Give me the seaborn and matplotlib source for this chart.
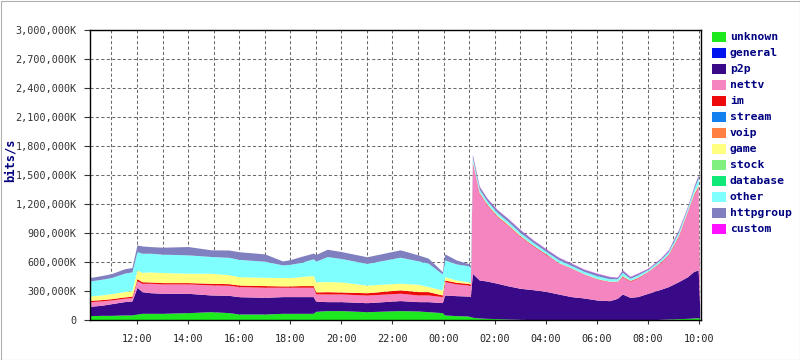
import matplotlib
matplotlib.use("Agg")
import matplotlib.pyplot as plt
from matplotlib.patches import Rectangle
import seaborn as sns

# time in hours since midnight of the first day (values > 24 are next day)
hours = [10.16, 10.6, 11.0, 11.5, 11.8, 12.0, 12.2, 12.5, 13.0, 14.0,
         14.9, 15.6, 16.0, 17.0, 17.7, 18.0, 18.4, 18.9, 19.0, 19.45,
         20.0, 21.0, 22.3, 23.0, 23.4, 23.95, 24.05, 24.5, 24.95, 25.05,
         25.13, 25.4, 25.7, 26.1, 26.5, 27.0, 27.5, 28.07, 28.5, 29.0,
         29.5, 30.0, 30.5, 30.8, 31.0, 31.3, 31.6, 32.0, 32.5, 32.8,
         33.2, 33.55, 33.8, 33.97, 34.03]

# traffic per category in Mbit/s (1 = 1,000K)
unknown = [45, 48, 48, 52, 52, 62, 69, 69, 69, 76,
           86, 76, 62, 62, 69, 69, 69, 69, 90, 97,
           97, 86, 97, 93, 86, 76, 52, 45, 41, 35,
           28, 21, 17, 14, 10, 7, 3, 3, 0, 0,
           0, 0, 0, 0, 0, 0, 0, 0, 7, 10,
           14, 17, 21, 24, 17]
general = [0] * 55
p2p = [97, 104, 121, 138, 145, 276, 224, 214, 207, 200,
       173, 179, 179, 173, 173, 173, 173, 173, 104, 93,
       93, 93, 104, 97, 104, 104, 207, 207, 207, 207,
       455, 393, 386, 366, 345, 321, 311, 290, 269, 242,
       228, 207, 200, 224, 269, 235, 242, 276, 311, 335,
       383, 431, 483, 493, 104]
nettv = [48, 45, 38, 35, 35, 69, 86, 97, 97, 97,
         104, 104, 104, 104, 97, 97, 97, 97, 76, 79,
         79, 79, 76, 69, 69, 62, 138, 121, 114, 114,
         1139, 897, 787, 690, 628, 535, 452, 373, 321, 293,
         245, 217, 197, 173, 179, 166, 190, 224, 276, 328,
         473, 673, 794, 863, 35]
im = [14, 14, 14, 14, 14, 21, 17, 14, 14, 14,
      17, 17, 17, 17, 14, 14, 17, 17, 21, 24,
      21, 24, 35, 35, 35, 17, 17, 17, 17, 17,
      10, 7, 7, 7, 7, 7, 7, 7, 3, 3,
      3, 3, 3, 3, 7, 7, 7, 3, 7, 7,
      7, 7, 10, 10, 0]
stream = [0] * 55
voip = [0] * 55
game = [45, 48, 52, 55, 59, 90, 97, 104, 104, 97,
        104, 93, 86, 86, 86, 86, 93, 104, 104, 104,
        104, 79, 69, 76, 52, 52, 35, 24, 17, 17,
        10, 7, 7, 7, 7, 7, 3, 3, 3, 3,
        3, 3, 3, 3, 7, 3, 3, 3, 3, 3,
        7, 7, 10, 14, 0]
stock = [0] * 55
database = [0] * 55
other = [155, 162, 166, 190, 193, 190, 197, 193, 190, 190,
         173, 179, 179, 166, 131, 138, 145, 173, 214, 259,
         242, 224, 269, 242, 242, 166, 173, 166, 166, 155,
         35, 28, 28, 28, 28, 28, 28, 24, 28, 24,
         24, 28, 24, 24, 31, 21, 24, 17, 21, 24,
         28, 24, 41, 62, 10]
httpgroup = [35, 38, 41, 45, 45, 69, 76, 69, 72, 86,
             69, 76, 79, 76, 41, 48, 62, 59, 69, 76,
             72, 69, 76, 62, 52, 24, 62, 41, 24, 24,
             31, 28, 28, 28, 28, 28, 24, 24, 24, 21,
             21, 24, 21, 14, 24, 17, 17, 10, 14, 17,
             21, 14, 21, 35, 7]
custom = [0, 0, 0, 0, 0, 0, 0, 0, 0, 0,
          0, 0, 0, 0, 0, 0, 0, 0, 0, 0,
          0, 0, 0, 0, 0, 0, 0, 0, 0, 0,
          5, 3, 3, 3, 3, 3, 3, 3, 3, 3,
          3, 3, 3, 3, 3, 3, 3, 3, 3, 3,
          3, 3, 3, 3, 0]

categories = ["unknown", "general", "p2p", "nettv", "im", "stream", "voip",
              "game", "stock", "database", "other", "httpgroup", "custom"]
colors = ["#1ee81e", "#0014f0", "#380a87", "#f585c0", "#ee0a0a", "#1480f0",
          "#ff8040", "#ffff80", "#80f080", "#10e878", "#80ffff", "#8080c0",
          "#ff10ff"]

xtick_pos = [12, 14, 16, 18, 20, 22, 24, 26, 28, 30, 32, 34]
xtick_labels = ["12:00", "14:00", "16:00", "18:00", "20:00", "22:00",
                "00:00", "02:00", "04:00", "06:00", "08:00", "10:00"]
ytick_vals = [0, 300, 600, 900, 1200, 1500, 1800, 2100, 2400, 2700, 3000]
ytick_labels = ["0", "300,000K", "600,000K", "900,000K", "1,200,000K",
                "1,500,000K", "1,800,000K", "2,100,000K", "2,400,000K",
                "2,700,000K", "3,000,000K"]

sns.set_theme(style="white")
plt.rcParams['font.family'] = ['DejaVu Sans Mono', 'DejaVu Sans']

W, H = 800, 360
fig = plt.figure(figsize=(W / 100, H / 100), dpi=100)
fig.patch.set_facecolor("white")
ax = fig.add_axes([90 / W, 40 / H, 611 / W, 290 / H])
ax.set_facecolor("white")

series = [unknown, general, p2p, nettv, im, stream, voip, game, stock,
          database, other, httpgroup, custom]
ax.stackplot(hours, *series, colors=sns.color_palette(colors),
             linewidth=0, zorder=2)

ax.set_xlim(10.16, 34.08)
ax.set_ylim(0, 3000)
ax.set_xticks(xtick_pos)
ax.set_xticklabels(xtick_labels)
ax.set_xticks(list(range(11, 35)), minor=True)
ax.set_yticks(ytick_vals)
ax.set_yticklabels(ytick_labels)

grid_kw = dict(color="#6a6a6a", linewidth=0.75, linestyle=(0, (3, 2.2)))
ax.grid(which="minor", axis="x", **grid_kw)
ax.grid(which="major", axis="x", **grid_kw)
ax.grid(which="major", axis="y", **grid_kw)
ax.set_axisbelow(True)

ax.tick_params(axis="y", which="major", direction="out", length=4,
               width=0.8, color="#333333", pad=5.5, labelsize=7.3,
               labelcolor="#333333", left=True)
ax.tick_params(axis="x", which="major", direction="out", length=3,
               width=0.8, color="#333333", pad=7, labelsize=7.3,
               labelcolor="#222222", bottom=True)
ax.tick_params(axis="x", which="minor", length=0)

for s in ax.spines.values():
    s.set_color("black")
    s.set_linewidth(1.0)
    s.set_zorder(5)

# y axis title
fig.text(10 / W, 1 - 160 / H, "bits/s", rotation=90, ha="center",
         va="center", color="#000080", fontsize=8.7, fontweight="bold")

# legend on the right
for i, (name, col) in enumerate(zip(categories, colors)):
    yc = 37 + 16 * i
    fig.patches.append(Rectangle((712 / W, 1 - (yc + 4.7) / H), 14 / W,
                                 9.4 / H, transform=fig.transFigure,
                                 facecolor=col, edgecolor="none"))
    fig.text(730 / W, 1 - yc / H, name, ha="left", va="center",
             color="#000080", fontsize=8.2, fontweight="bold")

# thin outer border of the image
fig.patches.append(Rectangle((0.5 / W, 0.5 / H), 1 - 1 / W, 1 - 1 / H,
                             transform=fig.transFigure, fill=False,
                             edgecolor="#b0b0b0", linewidth=0.8))

fig.savefig("out.png", dpi=100, facecolor="white")
